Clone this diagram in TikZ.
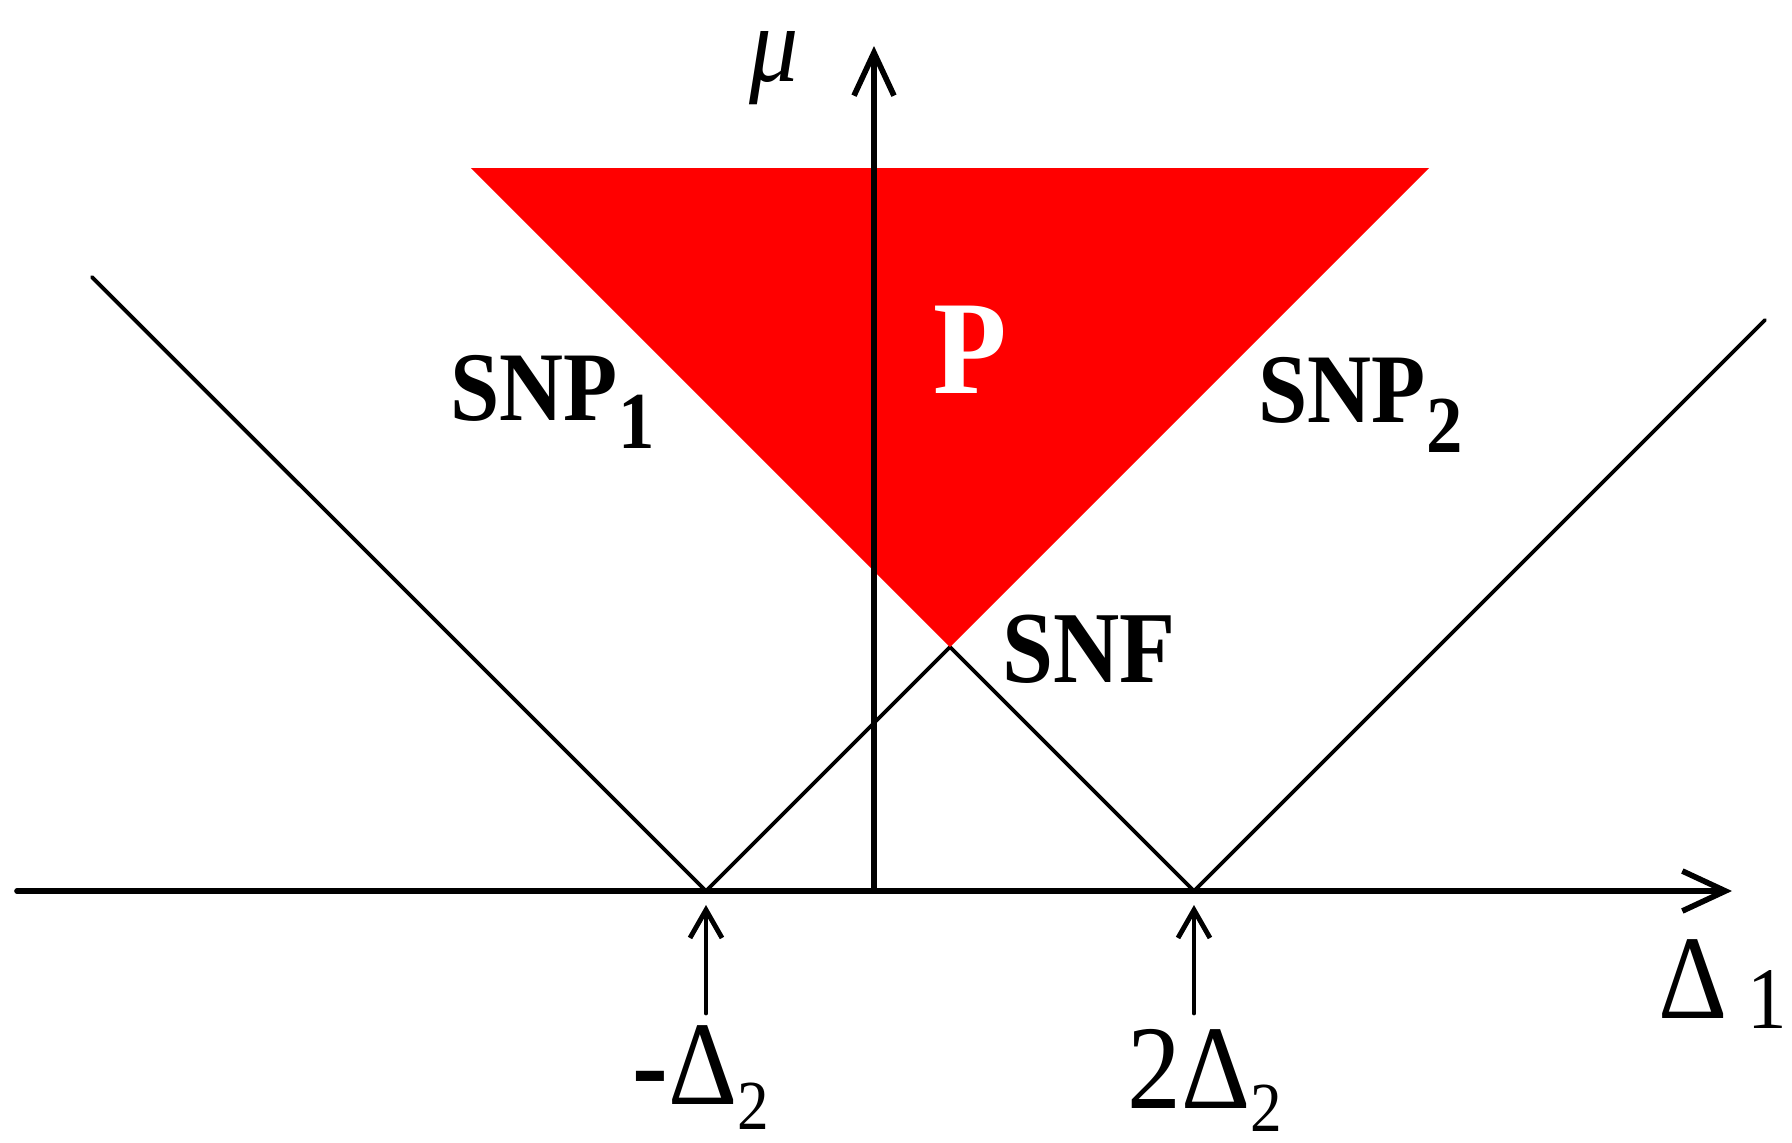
\documentclass[tikz,border=0pt]{standalone}
\usepackage{fontspec}
\setmainfont{Liberation Serif}[FakeStretch=0.9]
\usepackage{tkz-euclide}
\usetikzlibrary{arrows.meta}
\definecolor{RegionClr}{RGB}{255,0,0}
\newcommand\subdrop[3]{\raisebox{-#2}{\fontsize{#3}{#3}\selectfont #1}}

\begin{document}
\begin{tikzpicture}[lbl/.style={inner sep=0pt,anchor=base west}]
\tkzSetUpLine[line width=1.1pt,color=black]
\useasboundingbox (-8.74,-2.51) rectangle (9.18,8.91);

\tkzDefPoints{0/0/O,-8.57/0/X0,8.58/0/X1,0/8.45/Y1}
\tkzDefPoints{-1.68/0/A,3.20/0/B,0.76/2.44/F}
\tkzDefPoints{-4.03/7.23/T1,5.55/7.23/T2}
\tkzDefPoints{-7.82/6.14/L,8.91/5.71/R}
\tkzDefPoints{-1.68/-1.22/A1,-1.68/-0.14/A2,3.20/-1.22/B1,3.20/-0.14/B2}

\tkzDrawSegments(A,L A,F B,F B,R)

\tkzFillPolygon[fill=RegionClr](T1,T2,F)

\tkzDrawSegments[line width=1.6pt,-{Straight Barb[length=4.3mm,width=4mm]}](X0,X1 O,Y1)
\tkzDrawSegments[line width=1.4pt,-{Straight Barb[length=2.8mm,width=3.2mm]}](A1,A2 B1,B2)

\node[lbl,font=\fontsize{31}{31}\selectfont\itshape] (mu) at (-1.25,8.10) {μ};
\node[lbl,font=\fontsize{28}{28}\selectfont\bfseries] (snp1) at (-4.24,4.71) {SNP\subdrop{1}{0.28cm}{23}};
\node[lbl,font=\fontsize{28}{28}\selectfont\bfseries] (snp2) at (3.84,4.69) {SNP\subdrop{2}{0.30cm}{23}};
\node[lbl,font=\fontsize{38}{38}\selectfont\bfseries,text=white] (p) at (0.59,4.98) {P};
\node[lbl,font=\fontsize{29}{29}\selectfont\bfseries] (snf) at (1.28,2.09) {SNF};
\node[lbl,font=\fontsize{34}{34}\selectfont] (mdelta) at (-2.42,-2.13) {\textbf{-}Δ\subdrop{2}{0.25cm}{20}};
\node[lbl,font=\fontsize{34}{34}\selectfont] (tdelta) at (2.53,-2.17) {2Δ\subdrop{2}{0.23cm}{20}};
\node[lbl,font=\fontsize{34}{34}\selectfont] (delta1) at (7.84,-1.27) {Δ\hspace{0.2cm}\subdrop{1}{0.1cm}{25}};

\end{tikzpicture}
\end{document}
